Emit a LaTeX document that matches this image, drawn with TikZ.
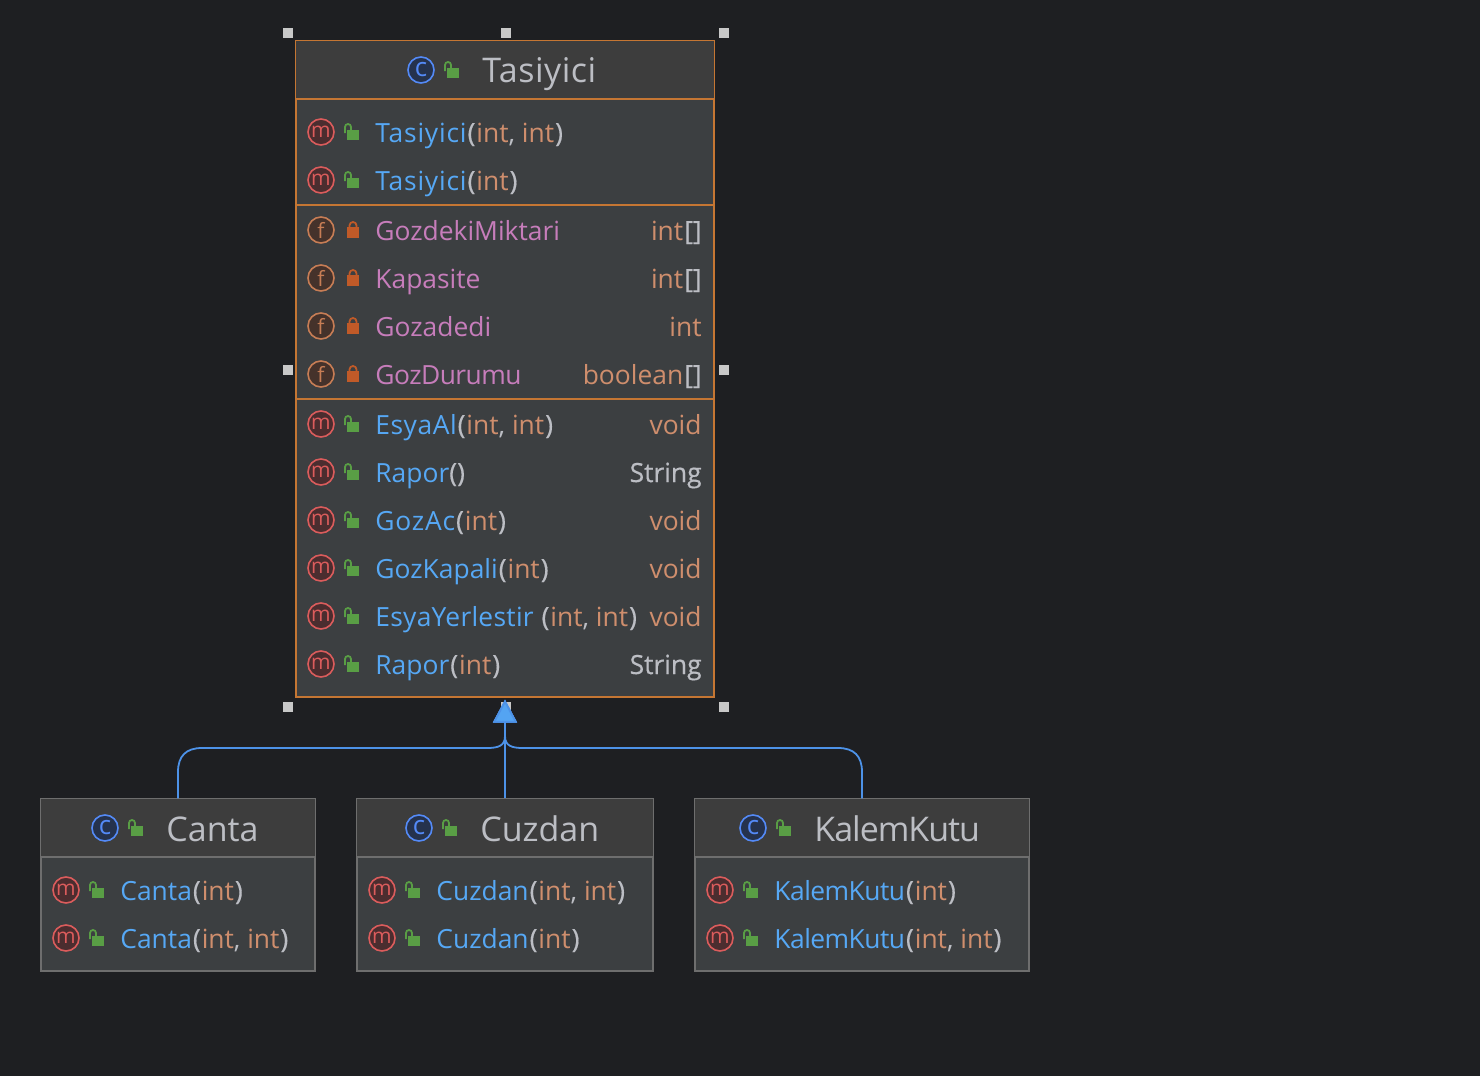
\documentclass[tikz,border=0pt]{standalone}
\usepackage{fontspec}
\setmainfont{Open Sans}
\usetikzlibrary{arrows.meta}
\definecolor{canvas}{HTML}{1E1F22}
\definecolor{bodyfill}{HTML}{3C3F41}
\definecolor{headfill}{HTML}{3D3D3D}
\definecolor{orangeline}{HTML}{C57633}
\definecolor{grayline}{HTML}{6E6E6E}
\definecolor{handlecol}{HTML}{C8C8C8}
\definecolor{linkcol}{HTML}{4D92E8}
\definecolor{namecol}{HTML}{56A8F5}
\definecolor{fieldcol}{HTML}{C77DBB}
\definecolor{typecol}{HTML}{CF8E6D}
\definecolor{textcol}{HTML}{BCBEC4}
\definecolor{greenlock}{HTML}{599E45}
\definecolor{redlock}{HTML}{C05A28}
\definecolor{mstroke}{HTML}{DB5C5C}
\definecolor{mfill}{HTML}{4B2D2F}
\definecolor{fstroke}{HTML}{C77D55}
\definecolor{ffill}{HTML}{45322B}
\definecolor{cstroke}{HTML}{548AF7}
\definecolor{cfill}{HTML}{25324D}
\newcommand{\tracked}[2]{{\addfontfeature{LetterSpace=#1}#2}}
\newcommand{\nm}[1]{\textcolor{namecol}{#1}}
\newcommand{\ty}[1]{\textcolor{typecol}{#1}}
\newcommand{\pa}[1]{\textcolor{textcol}{\addfontfeature{FakeBold=0.5}#1}}
\newcommand{\op}{\kern.5pt\pa{(}\kern.5pt}
\newcommand{\cl}{\kern.5pt\pa{)}}
\newcommand{\intint}{\op\ty{int}\textcolor{textcol}{, }\ty{int}\cl}
\newcommand{\oneint}{\op\ty{int}\cl}
\tikzset{
  classbox/.style = {draw, fill=bodyfill, line width=.7pt, inner sep=0pt},
  icon/.style = {circle, draw, line width=.8pt, minimum size=13pt, inner sep=0pt, font=\fontsize{10.5}{10}\selectfont},
  micon/.style = {icon, fill=mfill, draw=mstroke, text=mstroke},
  ficon/.style = {icon, fill=ffill, draw=fstroke, text=fstroke},
  cicon/.style = {icon, fill=cfill, draw=cstroke, text=cstroke, font=\fontsize{13}{10}\selectfont},
  rowtext/.style = {anchor=base west, inner sep=0pt, font=\fontsize{13.2}{16}\selectfont},
  rettext/.style = {anchor=base east, inner sep=0pt, font=\fontsize{13.2}{16}\selectfont},
  titletext/.style = {anchor=base west, inner sep=0pt, text=textcol, font=\fontsize{17}{20}\selectfont},
  handle/.style = {fill=handlecol, minimum size=5pt, inner sep=0pt},
  inherit/.style = {draw=linkcol, line width=.9pt, shorten >=1pt,
    -{Triangle[width=12pt,length=11.5pt,fill=namecol!80!linkcol]}},
  openlock/.pic = {
    \fill[greenlock] (-5,-2) rectangle (7,8);
    \draw[greenlock, line width=.9pt] (-7,1) -- (-7,-5) arc[start angle=180, end angle=360, radius=3] -- (-1,-2);
  },
  closedlock/.pic = {
    \fill[redlock] (-6,-3) rectangle (6,8);
    \draw[redlock, line width=.9pt] (-3.5,-3) -- (-3.5,-4.5) arc[start angle=180, end angle=360, radius=3.5] -- (3.5,-3);
  }
}
% #1 node name, #2 box left, #3 box right, #4 y, #5 signature, #6 return type
\newcommand{\methodrow}[6]{
  \node[micon] (#1icon) at (#2+25,#4) {m};
  \pic at (#2+56,#4) {openlock};
  \node[rowtext] (#1) at (#2+79,#4+10) {#5};
  \node[rettext] (#1type) at (#3-12,#4+10) {#6};
}
\newcommand{\fieldrow}[6]{
  \node[ficon] (#1icon) at (#2+25,#4) {f};
  \pic at (#2+57,#4) {closedlock};
  \node[rowtext, text=fieldcol] (#1) at (#2+79,#4+10) {#5};
  \node[rettext] (#1type) at (#3-12,#4+10) {#6};
}
% #1 node name, #2 icon x, #3 title
\newcommand{\titlerow}[3]{
  \node[cicon] (#1icon) at (#2,70) {c};
  \pic at (#2+31,70) {openlock};
  \node[titletext] (#1title) at (#2+61,83) {#3};
}
\begin{document}
\begin{tikzpicture}[x=.5pt, y=-.5pt]
  \fill[canvas] (0,0) rectangle (1480,1076);
  \useasboundingbox (0,0) rectangle (1480,1076);

  % selection handles
  \foreach \hx/\hy in {288/33, 506/33, 724/33, 288/370, 724/370, 288/707, 506/707, 724/707}
    \node[handle] (h\hx-\hy) at (\hx,\hy) {};

  % class boxes
  \node[classbox, draw=orangeline, minimum width=209pt, minimum height=328pt] (tasiyici) at (505,369) {};
  \node[classbox, draw=grayline, minimum width=137pt, minimum height=86pt] (canta) at (178,885) {};
  \node[classbox, draw=grayline, minimum width=148pt, minimum height=86pt] (cuzdan) at (505,885) {};
  \node[classbox, draw=grayline, minimum width=167pt, minimum height=86pt] (kalemkutu) at (862,885) {};

  % headers and dividers
  \draw[orangeline, line width=.7pt, fill=headfill] (tasiyici.north west) rectangle (tasiyici.north east |- 0,99);
  \draw[orangeline, line width=.7pt] (tasiyici.west |- 0,205) -- (tasiyici.east |- 0,205);
  \draw[orangeline, line width=.7pt] (tasiyici.west |- 0,399) -- (tasiyici.east |- 0,399);
  \foreach \cls in {canta, cuzdan, kalemkutu}
    \draw[grayline, line width=.7pt, fill=headfill] (\cls.north west) rectangle (\cls.north east |- 0,857);

  % Tasiyici
  \titlerow{tas}{421}{\tracked{1.5}{Tasiyici}}
  \methodrow{ctorA}{296}{714}{132}{\nm{\tracked{3}{Tasiyici}}\intint}{}
  \methodrow{ctorB}{296}{714}{180}{\nm{\tracked{3}{Tasiyici}}\oneint}{}
  \fieldrow{gozdeki}{296}{714}{230}{GozdekiMiktari}{\ty{int}\kern.5pt\pa{[]}}
  \fieldrow{kapasite}{296}{714}{278}{Kapasite}{\ty{int}\kern.5pt\pa{[]}}
  \fieldrow{gozadedi}{296}{714}{326}{Gozadedi}{\ty{int}}
  \fieldrow{gozdurumu}{296}{714}{374}{\tracked{-2}{GozDurumu}}{\ty{boolean}\kern.5pt\pa{[]}}
  \methodrow{esyaal}{296}{714}{424}{\nm{\tracked{2}{EsyaAl}}\intint}{\ty{void}}
  \methodrow{raporA}{296}{714}{472}{\nm{Rapor}\pa{()}}{\pa{String}}
  \methodrow{gozac}{296}{714}{520}{\nm{\tracked{3}{GozAc}}\oneint}{\ty{void}}
  \methodrow{gozkapali}{296}{714}{568}{\nm{GozKapali}\oneint}{\ty{void}}
  \methodrow{esyayer}{296}{714}{616}{\nm{\tracked{1}{EsyaYerlestir}} \intint}{\ty{void}}
  \methodrow{raporB}{296}{714}{664}{\nm{Rapor}\oneint}{\pa{String}}

  % subclasses
  \begin{scope}[yshift=-379pt]
    \titlerow{can}{105}{Canta}
    \titlerow{cuz}{419}{Cuzdan}
    \titlerow{kal}{753}{\tracked{-3}{KalemKutu}}
  \end{scope}
  \methodrow{cantaA}{41}{315}{890}{\nm{Canta}\oneint}{}
  \methodrow{cantaB}{41}{315}{938}{\nm{Canta}\intint}{}
  \methodrow{cuzdanA}{357}{653}{890}{\nm{Cuzdan}\intint}{}
  \methodrow{cuzdanB}{357}{653}{938}{\nm{Cuzdan}\oneint}{}
  \methodrow{kalemA}{695}{1029}{890}{\nm{\tracked{-2}{KalemKutu}}\oneint}{}
  \methodrow{kalemB}{695}{1029}{938}{\nm{\tracked{-2}{KalemKutu}}\intint}{}

  % inheritance
  \draw[inherit] (canta.north) -- (178,772) .. controls (178,756) and (186,748) .. (202,748) -- (487,748)
    .. controls (498,748) and (505,746) .. (505,736) -- (tasiyici.south);
  \draw[inherit] (kalemkutu.north) -- (862,772) .. controls (862,756) and (854,748) .. (838,748) -- (523,748)
    .. controls (512,748) and (505,746) .. (505,736) -- (tasiyici.south);
  \draw[inherit] (cuzdan.north) -- (tasiyici.south);
\end{tikzpicture}
\end{document}
